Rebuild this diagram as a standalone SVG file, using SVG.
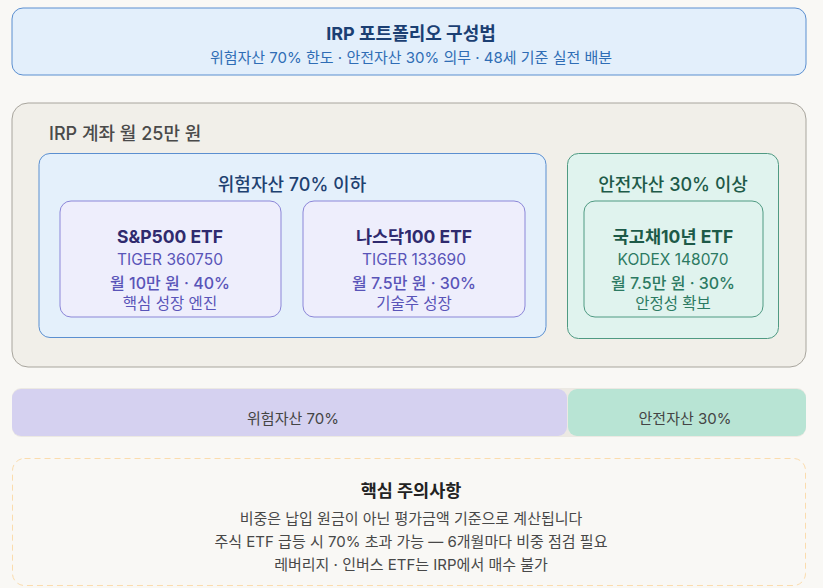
<svg xmlns="http://www.w3.org/2000/svg" width="823" height="588" viewBox="0 0 823 588">
<style>
text{font-family:"Inter","Noto Sans CJK KR",sans-serif;text-anchor:middle}
.t18{font-size:18px}
.t17{font-size:17.5px}
.b{font-weight:700}
.sb{font-weight:600}
.m{font-weight:500}
.s15{font-size:15.5px}
.s16{font-size:16px}
.risk .h{fill:#2f2a6e}
.risk .c{fill:#5954b8}
.safe .h{fill:#1d5a48}
.safe .c{fill:#2c7a62}
.card-r{fill:#eeeefc;stroke:#8b86d8;stroke-width:1}
.card-s{fill:#e0f3ee;stroke:#4f9a82;stroke-width:1}
.note{fill:#484848;font-size:15px}
</style>
<rect width="823" height="588" fill="#f9f8f5"/>
<g id="title">
<rect x="12" y="8" width="794" height="67" rx="11" fill="#e3effb" stroke="#5b8fd0"/>
<text x="411" y="40" class="t18 b" fill="#1b3f73">IRP 포트폴리오 구성법</text>
<text x="411" y="63" font-size="15" fill="#2f6db5">위험자산 70% 한도 · 안전자산 30% 의무 · 48세 기준 실전 배분</text>
</g>
<g id="account">
<rect x="12" y="103" width="794" height="264" rx="16" fill="#f1efe9" stroke="#a8a59d"/>
<text x="49" y="140" class="t18 m" fill="#4a4a4a" style="text-anchor:start">IRP 계좌 월 25만 원</text>
</g>
<g id="risk-group" class="risk">
<rect x="39" y="153.5" width="507" height="184" rx="11" fill="#e4f0fb" stroke="#5b8fd0"/>
<text x="292" y="191" class="t18 m" fill="#1e4170">위험자산 70% 이하</text>
</g>
<g id="sp500" class="risk">
<rect class="card-r" x="60" y="201" width="221" height="116" rx="11"/>
<text x="170" y="243" class="t17 b h">S&amp;P500 ETF</text>
<text x="170" y="265" class="s15 c">TIGER 360750</text>
<text x="170" y="289" class="s16 m c">월 10만 원 · 40%</text>
<text x="170" y="309" class="s15 c">핵심 성장 엔진</text>
</g>
<g id="nasdaq" class="risk">
<rect class="card-r" x="303" y="201" width="222" height="116" rx="11"/>
<text x="414" y="243" class="t17 b h">나스닥100 ETF</text>
<text x="414" y="265" class="s15 c">TIGER 133690</text>
<text x="414" y="289" class="s16 m c">월 7.5만 원 · 30%</text>
<text x="414" y="309" class="s15 c">기술주 성장</text>
</g>
<g id="safe-group" class="safe">
<rect x="567.5" y="153.5" width="211" height="185" rx="11" fill="#e0f3ee" stroke="#4f9a82"/>
<text x="673" y="191" class="t18 m" fill="#1e5a48">안전자산 30% 이상</text>
</g>
<g id="bond" class="safe">
<rect class="card-s" x="584" y="201" width="179" height="116" rx="11"/>
<text x="673" y="243" class="t17 b h">국고채10년 ETF</text>
<text x="673" y="265" class="s15 c">KODEX 148070</text>
<text x="673" y="289" class="s16 m c">월 7.5만 원 · 30%</text>
<text x="673" y="309" class="s15 c">안정성 확보</text>
</g>
<g id="bar">
<rect x="12" y="388" width="794" height="49" rx="9" fill="#ece9e3"/>
<rect x="12" y="389" width="555" height="47" rx="9" fill="#d5d1f0"/>
<rect x="568" y="389" width="238" height="47" rx="9" fill="#b8e4d4"/>
<text x="293" y="424" font-size="15" fill="#444">위험자산 70%</text>
<text x="685" y="424" font-size="15" fill="#444">안전자산 30%</text>
</g>
<g id="caution">
<rect x="12.5" y="458.5" width="793" height="127" rx="12" fill="#f9f8f5" stroke="#fbdcad" stroke-dasharray="6 4"/>
<text x="411" y="497" class="b" font-size="17.5" fill="#222">핵심 주의사항</text>
<text x="411" y="524" class="note">비중은 납입 원금이 아닌 평가금액 기준으로 계산됩니다</text>
<text x="411" y="547" class="note">주식 ETF 급등 시 70% 초과 가능 — 6개월마다 비중 점검 필요</text>
<text x="411" y="570" class="note">레버리지 · 인버스 ETF는 IRP에서 매수 불가</text>
</g>
</svg>
